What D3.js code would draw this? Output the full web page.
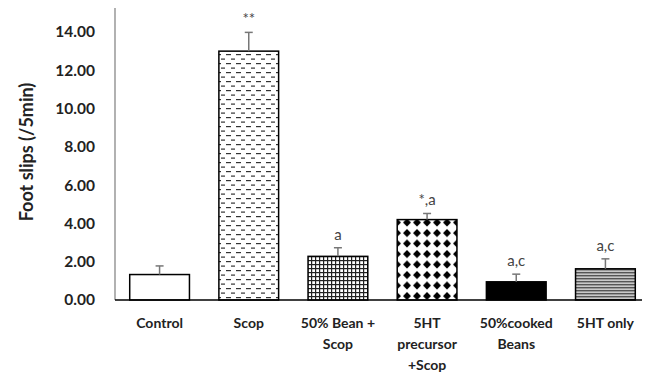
<!DOCTYPE html>
<html>
<head>
<meta charset="utf-8">
<script src="https://cdn.jsdelivr.net/npm/d3@7/dist/d3.min.js"></script>
<style>
  body { margin: 0; background: #fff; }
  svg { display: block; font-family: Lato, "Open Sans", sans-serif; }
</style>
</head>
<body>
<svg width="646" height="372"></svg>
<script>
// chart values
const groups = ["Control", "Scop", "50% Bean + Scop", "5HT precursor +Scop", "50%cooked Beans", "5HT only"];
const groupLines = [["Control"], ["Scop"], ["50% Bean +", "Scop"], ["5HT", "precursor", "+Scop"], ["50%cooked", "Beans"], ["5HT only"]];
const means = [1.33, 13.0, 2.28, 4.2, 0.95, 1.63];
const errors = [0.45, 0.98, 0.45, 0.32, 0.4, 0.52];
const marks = ["", "**", "a", "*,a", "a,c", "a,c"];
const ticks = [0, 2, 4, 6, 8, 10, 12, 14];
const fills = ["#fff", "url(#dash)", "url(#grid)", "url(#diamond)", "#000", "url(#hline)"];

const svg = d3.select("svg");
const margin = { top: 8, left: 115, bottom: 72, right: 2 };
const width = 646 - margin.left - margin.right;
const height = 372 - margin.top - margin.bottom;

// patterns
const defs = svg.append("defs");
let p = defs.append("pattern").attr("id", "dash").attr("patternUnits", "userSpaceOnUse")
  .attr("width", 10).attr("height", 9);
p.append("rect").attr("width", 10).attr("height", 9).attr("fill", "#fff");
p.append("rect").attr("x", 1).attr("y", 1).attr("width", 5).attr("height", 1.2).attr("fill", "#333");
p.append("rect").attr("x", 6).attr("y", 5.5).attr("width", 5).attr("height", 1.2).attr("fill", "#333");

p = defs.append("pattern").attr("id", "grid").attr("patternUnits", "userSpaceOnUse")
  .attr("width", 4).attr("height", 4);
p.append("rect").attr("width", 4).attr("height", 4).attr("fill", "#fff");
p.append("rect").attr("width", 4).attr("height", 1.2).attr("fill", "#222");
p.append("rect").attr("width", 1.2).attr("height", 4).attr("fill", "#222");

p = defs.append("pattern").attr("id", "diamond").attr("patternUnits", "userSpaceOnUse")
  .attr("x", 397).attr("y", 220).attr("width", 10).attr("height", 10.5);
p.append("rect").attr("width", 10).attr("height", 10.5).attr("fill", "#fff");
p.append("path").attr("d", "M5,1 L9,5 L5,9 L1,5 Z").attr("fill", "#000");

p = defs.append("pattern").attr("id", "hline").attr("patternUnits", "userSpaceOnUse")
  .attr("width", 4).attr("height", 3);
p.append("rect").attr("width", 4).attr("height", 3).attr("fill", "#c8c8c8");
p.append("rect").attr("width", 4).attr("height", 1.4).attr("fill", "#555");

const g = svg.append("g").attr("transform", "translate(" + margin.left + "," + margin.top + ")");

const x = d3.scaleBand().domain(groups).range([0, 535]).paddingInner(0.33).paddingOuter(0.165);
const y = d3.scaleLinear().domain([0, 14]).range([height, height - 268]);

// y axis
const yAxis = g.append("g")
  .call(d3.axisLeft(y).tickValues(ticks).tickSize(0).tickPadding(20).tickFormat(d3.format(".2f")));
yAxis.select(".domain").remove();
yAxis.selectAll("text").attr("font-size", 15.5).attr("font-weight", "bold").attr("fill", "#222")
  .attr("font-family", "Lato, sans-serif");
g.append("line").attr("x1", 0).attr("x2", 0).attr("y1", 0).attr("y2", height)
  .attr("stroke", "#888").attr("stroke-width", 1.3);

// bars
g.selectAll(".bar").data(groups).enter().append("rect")
  .attr("class", "bar")
  .attr("x", d => x(d))
  .attr("y", (d, i) => y(means[i]))
  .attr("width", x.bandwidth())
  .attr("height", (d, i) => y(0) - y(means[i]))
  .attr("fill", (d, i) => fills[i])
  .attr("stroke", "#000").attr("stroke-width", 1.5);

// error bars
const eb = g.selectAll(".err").data(groups).enter().append("g").attr("class", "err")
  .attr("transform", d => "translate(" + (x(d) + x.bandwidth() / 2) + ",0)");
eb.append("line").attr("y1", (d, i) => y(means[i])).attr("y2", (d, i) => y(means[i] + errors[i]))
  .attr("stroke", "#777").attr("stroke-width", 1.5);
eb.append("line").attr("x1", -4).attr("x2", 4)
  .attr("y1", (d, i) => y(means[i] + errors[i])).attr("y2", (d, i) => y(means[i] + errors[i]))
  .attr("stroke", "#777").attr("stroke-width", 1.5);
eb.append("text").attr("text-anchor", "middle")
  .attr("y", (d, i) => y(means[i] + errors[i]) - 8)
  .attr("font-size", 15).attr("fill", "#444")
  .text((d, i) => marks[i]);

// baseline
g.append("line").attr("x1", 0).attr("x2", 527).attr("y1", height).attr("y2", height)
  .attr("stroke", "#000").attr("stroke-width", 1.5);

// category labels
const cl = g.selectAll(".cat").data(groups).enter().append("text").attr("class", "cat")
  .attr("text-anchor", "middle").attr("font-size", 14).attr("font-weight", "bold").attr("fill", "#222")
  .attr("transform", d => "translate(" + (x(d) + x.bandwidth() / 2) + "," + (height + 28) + ")");
cl.selectAll("tspan").data((d, i) => groupLines[i]).enter().append("tspan")
  .attr("x", 0).attr("dy", (d, j) => j === 0 ? 0 : 21).text(d => d);

// y label
svg.append("text").attr("transform", "translate(33,152) rotate(-90)")
  .attr("text-anchor", "middle").attr("font-size", 18).attr("font-weight", "bold").attr("fill", "#222")
  .text("Foot slips (/5min)");
</script>
</body>
</html>
